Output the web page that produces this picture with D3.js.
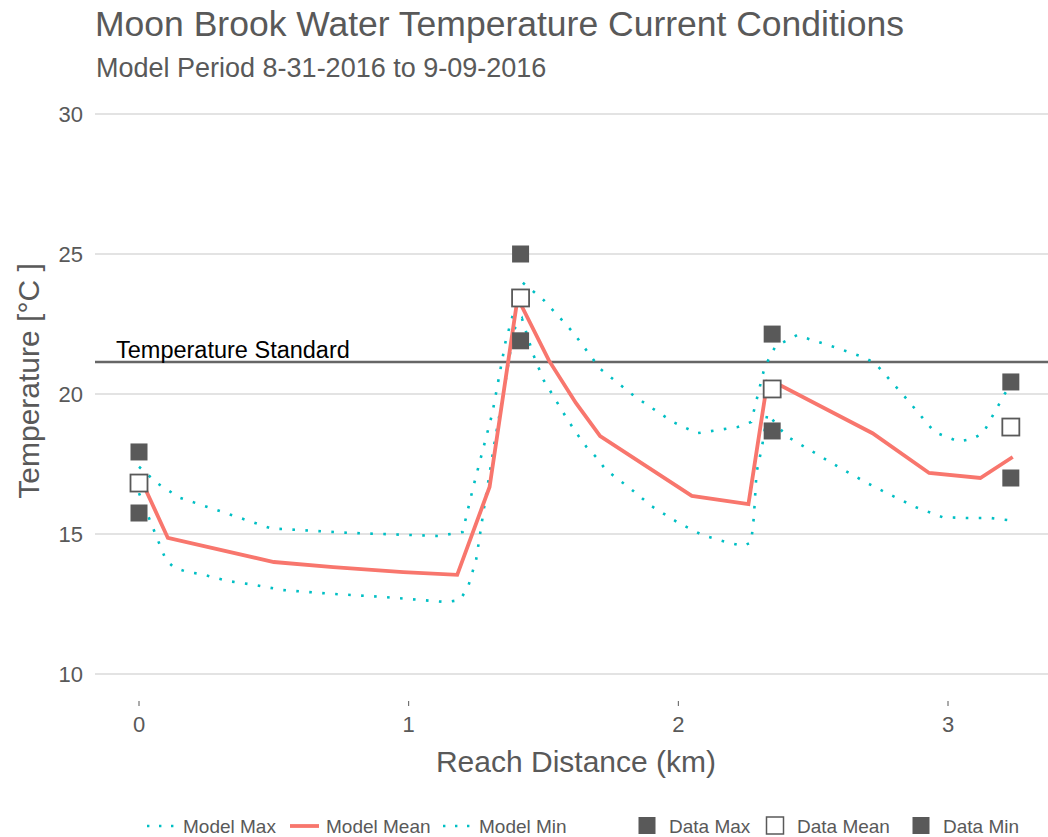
<!DOCTYPE html>
<head>
    <script src="https://d3js.org/d3.v7.min.js"></script>
    <style>
        body {margin: 0; background: #fff;}
        text {font-family: "Liberation Sans", Arial, sans-serif;}
    </style>
</head>
<body>
</body>
<script>
  const width = 1048,
        height = 837;

  // model series (km, deg C)
  const maxKm   = [0, 0.07, 0.15, 0.29, 0.49, 0.78, 1.11, 1.2, 1.24, 1.31, 1.36, 1.42, 1.5, 1.61, 1.71, 1.84, 1.98, 2.07, 2.22, 2.27, 2.32, 2.36, 2.44, 2.59, 2.69, 2.73, 2.84, 2.95, 3.04, 3.09, 3.13, 3.21, 3.24],
        maxT    = [17.4, 16.8, 16.3, 15.85, 15.2, 15.04, 14.93, 15.07, 16.7, 19.3, 21.9, 24.0, 23.36, 22.2, 20.9, 19.9, 19.0, 18.6, 18.82, 19.0, 20.96, 21.7, 22.1, 21.64, 21.3, 21.1, 19.9, 18.64, 18.3, 18.4, 18.6, 20.0, 20.4];
  const meanKm  = [0, 0.107, 0.5, 0.72, 0.98, 1.18, 1.3, 1.404, 1.52, 1.62, 1.71, 2.05, 2.26, 2.33, 2.38, 2.72, 2.93, 3.12, 3.24],
        meanT   = [17.1, 14.86, 14.0, 13.82, 13.64, 13.54, 16.68, 23.43, 21.2, 19.68, 18.5, 16.36, 16.07, 20.43, 20.3, 18.6, 17.18, 17.0, 17.75];
  const minKm   = [0, 0.04, 0.08, 0.1, 0.13, 0.18, 0.23, 0.33, 0.43, 0.53, 0.72, 0.91, 1.05, 1.14, 1.19, 1.22, 1.25, 1.28, 1.32, 1.36, 1.39, 1.42, 1.46, 1.5, 1.53, 1.59, 1.63, 1.66, 1.7, 1.73, 1.82, 1.9, 2.0, 2.09, 2.19, 2.24, 2.27, 2.28, 2.29, 2.31, 2.33, 2.36, 2.4, 2.5, 2.6, 2.7, 2.78, 2.88, 2.98, 3.07, 3.16, 3.22],
        minT    = [16.46, 15.5, 14.54, 14.07, 13.8, 13.64, 13.57, 13.32, 13.18, 13.0, 12.86, 12.75, 12.64, 12.57, 12.64, 13.1, 14.07, 15.96, 18.36, 20.5, 22.3, 22.7, 21.46, 20.5, 20.03, 19.07, 18.5, 18.1, 17.7, 17.3, 16.64, 16.0, 15.4, 14.96, 14.68, 14.57, 14.7, 15.6, 17.2, 18.1, 19.3, 18.96, 18.5, 17.93, 17.36, 16.82, 16.43, 15.96, 15.6, 15.57, 15.57, 15.5];

  // observed data
  const dataKm   = [0, 1.415, 2.348, 3.233],
        dataMax  = [17.93, 25.0, 22.14, 20.43],
        dataMean = [16.82, 23.43, 20.18, 18.82],
        dataMin  = [15.75, 21.9, 18.68, 17.0];

  const standardT = 21.14;
  const xTicks = [0, 1, 2, 3],
        yTicks = [10, 15, 20, 25, 30];

  const teal = "#00BFC4", red = "#F8766D", grey = "#595959";

  const x = d3.scaleLinear().domain([0, 3]).range([139, 948]);
  const y = d3.scaleLinear().domain([10, 30]).range([674, 114]);
  const panelLeft = 95, panelRight = width;

  const svg = d3.select("body").append("svg")
          .attr("width", width)
          .attr("height", height);

  // titles
  svg.append("text").attr("x", 95).attr("y", 36)
    .attr("font-size", 35.5).attr("fill", "#595959")
    .text("Moon Brook Water Temperature Current Conditions");
  svg.append("text").attr("x", 96).attr("y", 77)
    .attr("font-size", 27).attr("fill", "#595959")
    .text("Model Period 8-31-2016 to 9-09-2016");

  // grid
  svg.append("g").selectAll("line").data(yTicks).enter().append("line")
    .attr("x1", panelLeft).attr("x2", panelRight)
    .attr("y1", d => y(d)).attr("y2", d => y(d))
    .attr("stroke", "#c8c8c8").attr("stroke-width", 1.2);

  // y axis labels
  svg.append("g").selectAll("text").data(yTicks).enter().append("text")
    .attr("x", 83).attr("y", d => y(d) + 8)
    .attr("text-anchor", "end").attr("font-size", 22).attr("fill", "#595959")
    .text(d => d);
  svg.append("text")
    .attr("transform", `translate(39, 381) rotate(-90)`)
    .attr("text-anchor", "middle").attr("font-size", 30).attr("fill", "#595959")
    .text("Temperature [\u00B0C ]");

  // x axis ticks + labels
  const xg = svg.append("g").selectAll("g").data(xTicks).enter().append("g");
  xg.append("line")
    .attr("x1", d => x(d)).attr("x2", d => x(d))
    .attr("y1", 701).attr("y2", 706)
    .attr("stroke", "#595959").attr("stroke-width", 1);
  xg.append("text")
    .attr("x", d => x(d)).attr("y", 732)
    .attr("text-anchor", "middle").attr("font-size", 22).attr("fill", "#595959")
    .text(d => d);
  svg.append("text").attr("x", 576).attr("y", 772)
    .attr("text-anchor", "middle").attr("font-size", 30).attr("fill", "#595959")
    .text("Reach Distance (km)");

  // temperature standard
  svg.append("line")
    .attr("x1", panelLeft).attr("x2", panelRight)
    .attr("y1", y(standardT)).attr("y2", y(standardT))
    .attr("stroke", "#666").attr("stroke-width", 2.5);
  svg.append("text").attr("x", 116).attr("y", y(standardT) - 4)
    .attr("font-size", 23.5).attr("fill", "#000")
    .text("Temperature Standard");

  const line = d3.line().x(d => x(d[0])).y(d => y(d[1]));

  svg.append("path").datum(d3.zip(maxKm, maxT))
    .attr("d", line).attr("fill", "none")
    .attr("stroke", teal).attr("stroke-width", 2.6).attr("stroke-dasharray", "2.6,10.4");
  svg.append("path").datum(d3.zip(minKm, minT))
    .attr("d", line).attr("fill", "none")
    .attr("stroke", teal).attr("stroke-width", 2.6).attr("stroke-dasharray", "2.6,10.4");
  svg.append("path").datum(d3.zip(meanKm, meanT))
    .attr("d", line).attr("fill", "none")
    .attr("stroke", red).attr("stroke-width", 3.8);

  // data squares
  const sq = 17;
  const squares = (vals, hollow) => svg.append("g").selectAll("rect")
      .data(d3.zip(dataKm, vals)).enter().append("rect")
      .attr("x", d => x(d[0]) - sq / 2).attr("y", d => y(d[1]) - sq / 2)
      .attr("width", sq).attr("height", sq)
      .attr("fill", hollow ? "#fff" : grey)
      .attr("stroke", hollow ? grey : "none").attr("stroke-width", 1.8);
  squares(dataMax, false);
  squares(dataMin, false);
  squares(dataMean, true);

  // legend
  const leg = svg.append("g").attr("font-size", 19).attr("fill", "#595959");
  const lineKeys = [
    {label: "Model Max", x: 145, color: teal, dash: "2.4,9.6"},
    {label: "Model Mean", x: 288, color: red, dash: null},
    {label: "Model Min", x: 441, color: teal, dash: "2.4,9.6"}
  ];
  lineKeys.forEach(k => {
    leg.append("line").attr("x1", k.x + 2).attr("x2", k.x + 31)
      .attr("y1", 826).attr("y2", 826)
      .attr("stroke", k.color).attr("stroke-width", k.dash ? 2.4 : 3.8)
      .attr("stroke-dasharray", k.dash);
    leg.append("text").attr("x", k.x + 38).attr("y", 833).text(k.label);
  });
  const sqKeys = [
    {label: "Data Max", x: 647, hollow: false},
    {label: "Data Mean", x: 775, hollow: true},
    {label: "Data Min", x: 921, hollow: false}
  ];
  sqKeys.forEach(k => {
    leg.append("rect").attr("x", k.x - 8.5).attr("y", 817).attr("width", 17).attr("height", 17)
      .attr("fill", k.hollow ? "#fff" : grey)
      .attr("stroke", k.hollow ? grey : "none").attr("stroke-width", 1.5);
    leg.append("text").attr("x", k.x + 22).attr("y", 833).text(k.label);
  });
</script>
